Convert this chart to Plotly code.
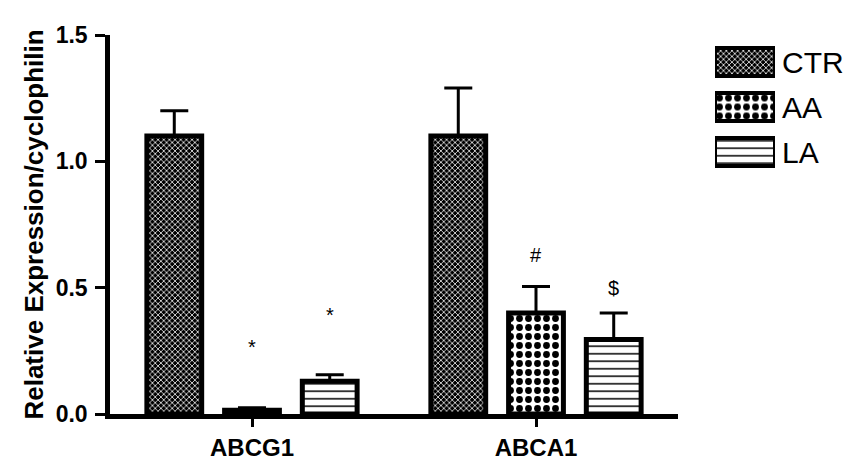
import plotly.graph_objects as go

# ---- data ----
genes = ["ABCG1", "ABCA1"]
groups = ["CTR", "AA", "LA"]
ctr_mean = [1.10, 1.10]
ctr_err = [0.10, 0.19]
aa_mean = [0.015, 0.40]
aa_err = [0.010, 0.105]
la_mean = [0.13, 0.295]
la_err = [0.025, 0.105]
y_tickvals = [0.0, 0.5, 1.0, 1.5]
y_ticktext = ["0.0", "0.5", "1.0", "1.5"]
sig_aa_text = ["*", "#"]
sig_aa_y = [0.265, 0.63]
sig_la_text = ["*", "$"]
sig_la_y = [0.39, 0.50]
legend_value = [1, 1, 1]

# ---- styling ----
FONT = "Arial, Liberation Sans, sans-serif"
BARGAP = 0.179
BARGROUPGAP = 0.295
patterns = {
    "CTR": dict(shape="x", bgcolor="black", fgcolor="white", size=4, solidity=0.35),
    "AA": dict(shape=".", bgcolor="white", fgcolor="black", size=9, solidity=0.45),
    "LA": dict(shape="-", bgcolor="white", fgcolor="black", size=7.5, solidity=0.2),
}
means = {"CTR": ctr_mean, "AA": aa_mean, "LA": la_mean}
errs = {"CTR": ctr_err, "AA": aa_err, "LA": la_err}

fig = go.Figure()
for g in groups:
    fig.add_trace(go.Bar(
        x=genes, y=means[g], name=g,
        marker=dict(color="white", pattern=patterns[g],
                    line=dict(color="black", width=5)),
        error_y=dict(type="data", array=errs[g], arrayminus=[0] * len(genes),
                     symmetric=False, color="black", thickness=3, width=14),
        showlegend=False, hoverinfo="skip",
    ))

# custom legend drawn as a small bar subplot
for g, v in zip(groups, legend_value):
    fig.add_trace(go.Bar(
        x=[v], y=[g], orientation="h", xaxis="x2", yaxis="y2",
        width=0.62, offset=-0.31,
        marker=dict(color="white", pattern=patterns[g],
                    line=dict(color="black", width=4)),
        showlegend=False, hoverinfo="skip",
    ))

# significance markers
slot = (1 - BARGAP) / len(groups)
annotations = []
for i, (t, yv) in enumerate(zip(sig_aa_text, sig_aa_y)):
    annotations.append(dict(x=i, y=yv, xref="x", yref="y", text=t, showarrow=False,
                            font=dict(family=FONT, size=20, color="black")))
for i, (t, yv) in enumerate(zip(sig_la_text, sig_la_y)):
    annotations.append(dict(x=i + slot, y=yv, xref="x", yref="y", text=t, showarrow=False,
                            font=dict(family=FONT, size=20, color="black")))

# page body has an 8px margin, so the figure is drawn 8px smaller
W, H = 853, 453
L, R, T, B = 102, 10, 27, 47
pw = W - L - R
ph = H - T - B
main_right = (670 - L) / pw

fig.update_layout(
    template="none",
    width=W, height=H,
    margin=dict(l=L, r=R, t=T, b=B, pad=0),
    paper_bgcolor="white", plot_bgcolor="white",
    barmode="group", bargap=BARGAP, bargroupgap=BARGROUPGAP,
    font=dict(family=FONT, color="black"),
    annotations=annotations,
    xaxis=dict(
        domain=[0, main_right], type="category", range=[-0.5, 1.5],
        showline=True, linewidth=4.5, linecolor="black", mirror=False,
        ticks="outside", ticklen=8, tickwidth=3, tickcolor="black",
        tickfont=dict(family=FONT, size=24, weight="bold"),
        showgrid=False, zeroline=False,
    ),
    yaxis=dict(
        range=[0, 1.5], tickvals=y_tickvals, ticktext=y_ticktext,
        showline=True, linewidth=4.5, linecolor="black",
        ticks="outside", ticklen=10, tickwidth=3, tickcolor="black",
        tickfont=dict(family=FONT, size=23, weight="bold"),
        ticklabelstandoff=3,
        title=dict(text="Relative Expression/cyclophilin",
                   font=dict(family=FONT, size=26, weight="bold"), standoff=6),
        showgrid=False, zeroline=False,
    ),
    xaxis2=dict(
        domain=[(707 - L) / pw, (767 - L) / pw], range=[0, 1], anchor="y2",
        visible=False, showgrid=False, zeroline=False,
    ),
    yaxis2=dict(
        domain=[(406 - 166.5) / ph, (406 - 31.5) / ph], anchor="x2",
        type="category", categoryorder="array", categoryarray=groups,
        autorange="reversed", side="right", ticklabelstandoff=6,
        showline=False, ticks="", showgrid=False, zeroline=False,
        tickfont=dict(family=FONT, size=30),
    ),
)

fig.write_html("out.html")
